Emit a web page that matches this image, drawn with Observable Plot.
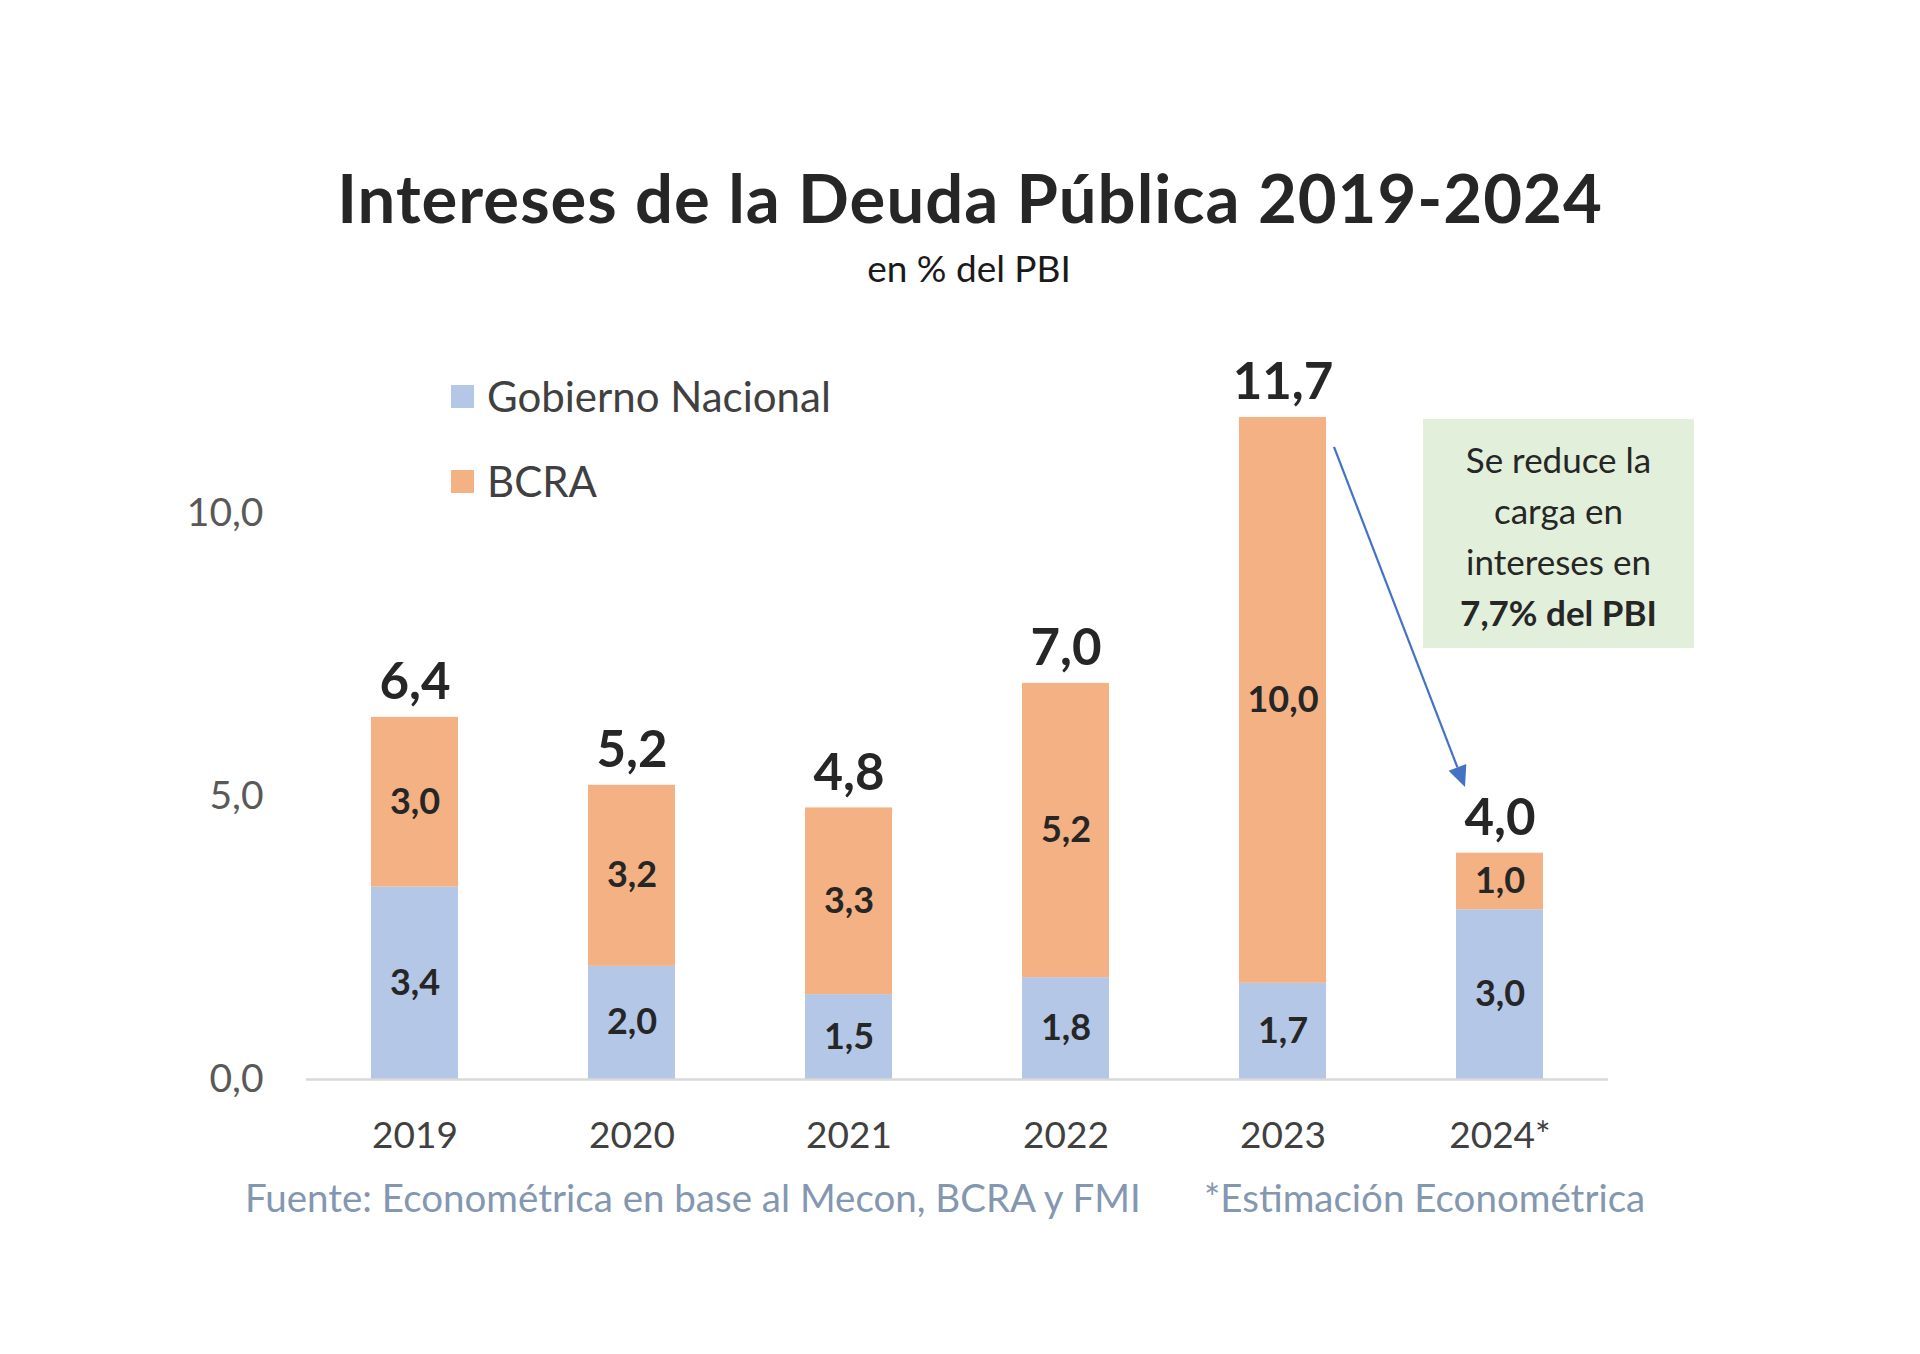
<!DOCTYPE html>
<html>
<head>
<meta charset="utf-8">
<script src="https://cdn.jsdelivr.net/npm/d3@7"></script>
<script src="https://cdn.jsdelivr.net/npm/@observablehq/plot@0.6"></script>
<style>
  body { margin: 0; background: #ffffff; }
  #page { position: relative; width: 1920px; height: 1354px; overflow: hidden; background: #ffffff;
          font-family: Lato, "Open Sans", sans-serif; }
  .abs { position: absolute; white-space: nowrap; line-height: 1; }
  #chart { position: absolute; left: 0; top: 320px; }
  .leg { position: absolute; display: flex; align-items: center; height: 40px; font-size: 42px; color: #404040; }
  .leg span.sw { display: inline-block; width: 23px; height: 23px; margin-right: 13px; }
  #note { position: absolute; left: 1423px; top: 419px; width: 271px; height: 229px; background: #e2efda;
          box-sizing: border-box; padding-top: 15px; text-align: center; font-size: 35px; line-height: 51px; color: #262626; }
</style>
</head>
<body>
<div id="page">
  <div class="abs" id="title" style="left:970px; top:164px; transform:translateX(-50%); font-size:67px; font-weight:700; letter-spacing:1px; color:#262626;">Intereses de la Deuda Pública 2019-2024</div>
  <div class="abs" id="subtitle" style="left:969px; top:249px; transform:translateX(-50%); font-size:37px; color:#1a1a1a;">en % del PBI</div>
  <div id="chart"></div>
  <div id="legend"></div>
  <div id="note"></div>
  <div class="abs" id="src1" style="left:245px; top:1178px; font-size:38.5px; color:#8497b0;"></div>
  <div class="abs" id="src2" style="left:1204px; top:1178px; font-size:38.5px; color:#8497b0;"></div>
</div>
<script>
// ---- data ----
const years = ["2019", "2020", "2021", "2022", "2023", "2024*"];
const gobierno = [3.4, 2.0, 1.5, 1.8, 1.7, 3.0];
const bcra = [3.0, 3.2, 3.3, 5.2, 10.0, 1.0];
const totals = [6.4, 5.2, 4.8, 7.0, 11.7, 4.0];
const series = ["Gobierno Nacional", "BCRA"];
const colors = ["#b4c7e7", "#f4b183"];
const yTicks = [0, 5, 10];
const noteLines = ["Se reduce la", "carga en", "intereses en"];
const noteBold = "7,7% del PBI";
const sourceText = "Fuente: Econométrica en base al Mecon, BCRA y FMI";
const estimateText = "*Estimación Econométrica";
const arrowFrom = {year: "2023", value: 11.17};
const arrowTo = {year: "2024*", value: 5.16};

const fmt = v => v.toFixed(1).replace(".", ",");

const segData = years.flatMap((yr, i) => [
  {year: yr, serie: series[0], value: gobierno[i], mid: gobierno[i] / 2},
  {year: yr, serie: series[1], value: bcra[i], mid: gobierno[i] + bcra[i] / 2}
]);
const totalData = years.map((yr, i) => ({year: yr, total: totals[i]}));

const chart = Plot.plot({
  width: 1920,
  height: 900,
  marginLeft: 306,
  marginRight: 312,
  marginTop: 80,
  marginBottom: 141,
  style: {fontFamily: "Lato, 'Open Sans', sans-serif", background: "transparent", overflow: "visible"},
  x: {domain: years, paddingInner: 0.6, paddingOuter: 0.3, label: null},
  y: {domain: [0, 12], label: null},
  color: {domain: series, range: colors},
  marks: [
    Plot.barY(segData, {x: "year", y: "value", fill: "serie", order: series}),
    Plot.ruleY([0], {stroke: "#d9d9d9", strokeWidth: 2.5}),
    Plot.text(segData, {x: "year", y: "mid", text: d => fmt(d.value), fontSize: 36, fontWeight: "bold", fill: "#262626"}),
    Plot.text(totalData, {x: "year", y: "total", text: d => fmt(d.total), lineAnchor: "bottom", dy: -18, fontSize: 51, fontWeight: "bold", fill: "#262626"}),
    Plot.axisX({tickSize: 0, tickPadding: 42, fontSize: 37, color: "#404040", label: null}),
    Plot.axisY({ticks: yTicks, tickFormat: fmt, tickSize: 0, tickPadding: 43, fontSize: 39, color: "#595959", label: null})
  ]
});
document.getElementById("chart").appendChild(chart);

// arrow annotation, positioned through the plot's own scales
const sx = chart.scale("x"), sy = chart.scale("y");
const x1 = sx.apply(arrowFrom.year) + sx.bandwidth + 8, y1 = sy.apply(arrowFrom.value);
const x2 = sx.apply(arrowTo.year) + 9, y2 = sy.apply(arrowTo.value);
const len = Math.hypot(x2 - x1, y2 - y1), ux = (x2 - x1) / len, uy = (y2 - y1) / len;
const hl = 21, hw = 9.5;
const bx = x2 - ux * hl, by = y2 - uy * hl;
const g = d3.select(chart).append("g");
g.append("line").attr("x1", x1).attr("y1", y1).attr("x2", bx).attr("y2", by)
  .attr("stroke", "#4472c4").attr("stroke-width", 2.2);
g.append("polygon").attr("points", [[x2, y2], [bx - uy * hw, by + ux * hw], [bx + uy * hw, by - ux * hw]].map(p => p.join(",")).join(" "))
  .attr("fill", "#4472c4");

// legend
const legend = document.getElementById("legend");
const legTops = [376, 461];
series.forEach((s, i) => {
  const d = document.createElement("div");
  d.className = "leg";
  d.style.left = "451px";
  d.style.top = legTops[i] + "px";
  d.innerHTML = `<span class="sw" style="background:${colors[i]}"></span><span>${s}</span>`;
  legend.appendChild(d);
});

// note box
const note = document.getElementById("note");
note.innerHTML = noteLines.map(l => `<div>${l}</div>`).join("") + `<div style="font-weight:700">${noteBold}</div>`;

document.getElementById("src1").textContent = sourceText;
document.getElementById("src2").textContent = estimateText;
</script>
</body>
</html>
